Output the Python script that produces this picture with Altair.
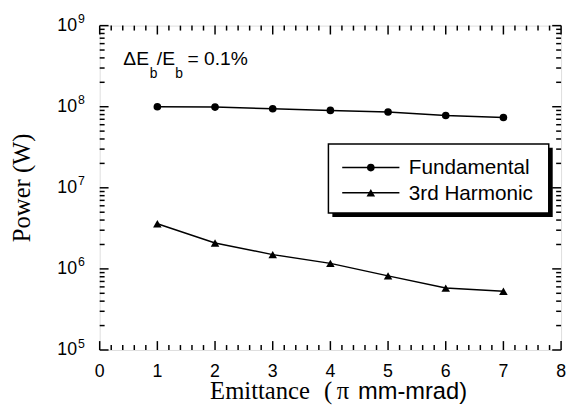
import altair as alt
import pandas as pd

# ---- data ----
emittance = [1, 2, 3, 4, 5, 6, 7]
fundamental = [1.0e8, 0.99e8, 0.945e8, 0.90e8, 0.86e8, 0.78e8, 0.735e8]
harmonic3 = [3.6e6, 2.09e6, 1.5e6, 1.17e6, 0.82e6, 0.58e6, 0.53e6]

x_major = [0, 1, 2, 3, 4, 5, 6, 7, 8]
x_minor = [round(i * 0.2, 1) for i in range(41) if i % 5 != 0]
y_exponents = [5, 6, 7, 8, 9]
y_major = [10.0 ** e for e in y_exponents]
y_minor = [m * 10.0 ** e for e in [5, 6, 7, 8] for m in range(2, 10)]

W, H = 468, 329
SANS = "Liberation Sans"
SERIF = "Liberation Serif"

xs = alt.Scale(domain=[0, 8], nice=False, zero=False)
ys = alt.Scale(type="log", domain=[1e5, 1e9], nice=False)

def X(f="x"):
    return alt.X(f"{f}:Q", scale=xs, axis=None)

def Y(f="y"):
    return alt.Y(f"{f}:Q", scale=ys, axis=None)

one = pd.DataFrame({"a": [0]})

layers = []

# ticks (inward) on all four sides
dxmaj = pd.DataFrame({"x": x_major})
dxmin = pd.DataFrame({"x": x_minor})
dymaj = pd.DataFrame({"y": y_major})
dymin = pd.DataFrame({"y": y_minor})
tick = dict(color="black", strokeWidth=1.5)
for df, L in [(dxmaj, 9), (dxmin, 5)]:
    layers.append(alt.Chart(df).mark_rule(**tick).encode(x=X(), y=alt.value(H), y2=alt.value(H - L)))
    layers.append(alt.Chart(df).mark_rule(**tick).encode(x=X(), y=alt.value(0), y2=alt.value(L)))
for df, L in [(dymaj, 9), (dymin, 5)]:
    layers.append(alt.Chart(df).mark_rule(**tick).encode(y=Y(), x=alt.value(0), x2=alt.value(L)))
    layers.append(alt.Chart(df).mark_rule(**tick).encode(y=Y(), x=alt.value(W), x2=alt.value(W - L)))

# data series
df_f = pd.DataFrame({"x": emittance, "y": fundamental})
df_h = pd.DataFrame({"x": emittance, "y": harmonic3})
layers.append(alt.Chart(df_f).mark_line(color="black", strokeWidth=1.5).encode(x=X(), y=Y()))
layers.append(alt.Chart(df_f).mark_point(filled=True, shape="circle", size=60, color="black", opacity=1).encode(x=X(), y=Y()))
layers.append(alt.Chart(df_h).mark_line(color="black", strokeWidth=1.5).encode(x=X(), y=Y()))
layers.append(alt.Chart(df_h).mark_point(filled=True, shape="triangle-up", size=75, color="black", opacity=1).encode(x=X(), y=Y()))

# x tick labels
dxl = pd.DataFrame({"x": x_major, "t": [str(v) for v in x_major]})
layers.append(alt.Chart(dxl).mark_text(font=SANS, fontSize=18, baseline="alphabetic", align="center", color="black")
              .encode(x=X(), y=alt.value(H + 27), text="t:N"))

# y tick labels 10^n
dyl = pd.DataFrame({"y": y_major, "e": [str(e) for e in y_exponents]})
layers.append(alt.Chart(dyl).mark_text(font=SANS, fontSize=18, baseline="alphabetic", align="right", dy=5.5, color="black")
              .encode(y=Y(), x=alt.value(-23), text=alt.value("10")))
layers.append(alt.Chart(dyl).mark_text(font=SANS, fontSize=12.5, baseline="alphabetic", align="left", dy=-2.5, color="black")
              .encode(y=Y(), x=alt.value(-22), text="e:N"))

# axis titles
def txt(s, x, y, font, size, align="left", angle=0, baseline="alphabetic"):
    kw = dict(font=font, fontSize=size, align=align, baseline=baseline, color="black")
    if angle:
        kw["angle"] = angle
    return alt.Chart(one).mark_text(**kw).encode(x=alt.value(x), y=alt.value(y), text=alt.value(s))

TB = H + 50
layers.append(txt("Emittance", 112, TB, SERIF, 25))
layers.append(txt("(", 227.5, TB, SERIF, 25))
layers.append(txt("π", 240.5, TB, SERIF, 25))
layers.append(txt("mm-mrad)", 262, TB, SANS, 24))
layers.append(txt("Power (W)", -71, 164.5, SERIF, 25, align="center", angle=270))

# annotation ΔE_b/E_b = 0.1%
layers.append(txt("ΔE", 24, 40.3, SANS, 19.5))
layers.append(txt("b", 50.7, 53, SANS, 14))
layers.append(txt("/E", 58, 40.3, SANS, 19.5))
layers.append(txt("b", 76.7, 53, SANS, 14))
layers.append(txt("= 0.1%", 89, 40.3, SANS, 19.5))

# legend box with shadow
layers.append(alt.Chart(one).mark_rect(color="black").encode(
    x=alt.value(236), x2=alt.value(459.5), y=alt.value(124), y2=alt.value(194)))
layers.append(alt.Chart(one).mark_rect(fill="white", stroke="black", strokeWidth=1.5).encode(
    x=alt.value(232), x2=alt.value(455.5), y=alt.value(120), y2=alt.value(190)))
for yy, shape, size, label in [(144, "circle", 60, "Fundamental"), (169.5, "triangle-up", 75, "3rd Harmonic")]:
    layers.append(alt.Chart(one).mark_rule(color="black", strokeWidth=1.5).encode(
        x=alt.value(246), x2=alt.value(304), y=alt.value(yy)))
    layers.append(alt.Chart(one).mark_point(filled=True, shape=shape, size=size, color="black", opacity=1).encode(
        x=alt.value(275), y=alt.value(yy)))
    layers.append(txt(label, 313.5, yy + 1, SANS, 21, baseline="middle"))

chart = alt.layer(*layers).properties(
    width=W, height=H,
    autosize=alt.AutoSizeParams(type="none"),
    padding={"left": 93, "top": 15, "right": 6, "bottom": 58},
).configure_view(stroke="black", strokeWidth=2).configure(background="white")

chart.save("out.html", embed_options={"renderer": "svg", "actions": False})
